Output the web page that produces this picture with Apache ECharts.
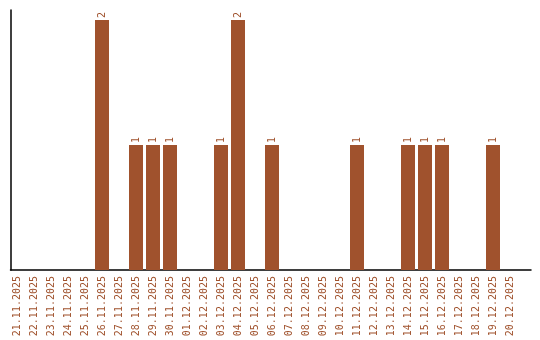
<!DOCTYPE html>
<html>
<head>
<meta charset="utf-8">
<script src="https://cdn.jsdelivr.net/npm/echarts@6/dist/echarts.min.js"></script>
<style>html,body{margin:0;padding:0;background:#fff}#c{width:540px;height:340px}</style>
</head>
<body>
<div id="c"></div>
<script>
const categories = ["21.11.2025","22.11.2025","23.11.2025","24.11.2025","25.11.2025","26.11.2025","27.11.2025","28.11.2025","29.11.2025","30.11.2025","01.12.2025","02.12.2025","03.12.2025","04.12.2025","05.12.2025","06.12.2025","07.12.2025","08.12.2025","09.12.2025","10.12.2025","11.12.2025","12.12.2025","13.12.2025","14.12.2025","15.12.2025","16.12.2025","17.12.2025","18.12.2025","19.12.2025","20.12.2025"];
const counts = [0,0,0,0,0,2,0,1,1,1,0,0,1,2,0,1,0,0,0,0,1,0,0,1,1,1,0,0,1,0];
const yMax = 2.08;
const color = '#a0522d';
const font = '"DejaVu Sans Mono", monospace';

const chart = echarts.init(document.getElementById('c'), null, {renderer:'canvas'});
chart.setOption({
  animation: false,
  grid: [
    {left: 8.5, right: 21.5, top: 10, bottom: 70},
    {left: 10.5, right: 9, top: 10, bottom: 70}
  ],
  xAxis: [
    {type: 'category', data: categories, gridIndex: 0,
     axisLine: {show: false}, axisTick: {show: false},
     axisLabel: {rotate: 90, color: color, fontFamily: font, fontSize: 10, margin: 6, interval: 0}},
    {type: 'value', gridIndex: 1, min: 0, max: 1,
     axisLine: {show: true, onZero: false, lineStyle: {color: '#000', width: 1.5}},
     axisTick: {show: false}, axisLabel: {show: false}, splitLine: {show: false}}
  ],
  yAxis: [
    {type: 'value', gridIndex: 0, min: 0, max: yMax,
     axisLine: {show: false}, axisTick: {show: false}, axisLabel: {show: false}, splitLine: {show: false}},
    {type: 'value', gridIndex: 1, min: 0, max: 1,
     axisLine: {show: true, onZero: false, lineStyle: {color: '#000', width: 1.5}},
     axisTick: {show: false}, axisLabel: {show: false}, splitLine: {show: false}}
  ],
  series: [{
    type: 'bar', xAxisIndex: 0, yAxisIndex: 0,
    data: counts.map(v => v === 0 ? null : v),
    barWidth: 14,
    itemStyle: {color: color},
    label: {show: true, position: 'top', rotate: 90, align: 'left', verticalAlign: 'middle',
            distance: 2, color: color, fontFamily: font, fontSize: 10}
  }]
});
</script>
</body>
</html>
